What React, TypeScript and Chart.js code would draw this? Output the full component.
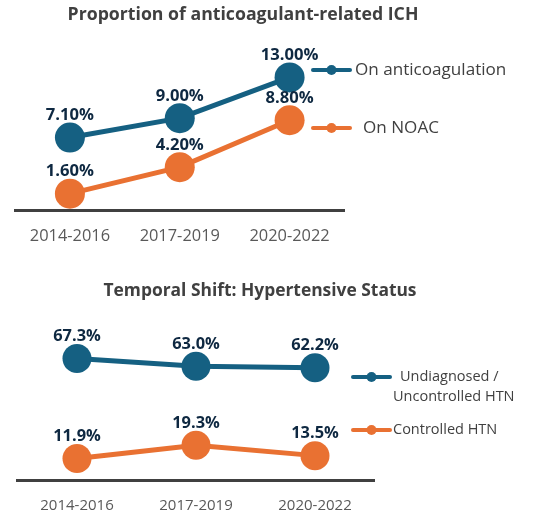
import React, { useEffect, useRef } from "react";
import { Chart, registerables } from "chart.js";

Chart.register(...registerables);

const periods = ["2014-2016", "2017-2019", "2020-2022"];

const topTitle = "Proportion of anticoagulant-related ICH";
const onAnticoagulation = [7.1, 9.0, 13.0];
const onNoac = [1.6, 4.2, 8.8];

const bottomTitle = "Temporal Shift: Hypertensive Status";
const uncontrolledHtn = [67.3, 63.0, 62.2];
const controlledHtn = [11.9, 19.3, 13.5];

const BLUE = "#156082";
const ORANGE = "#E97132";
const NAVY = "#0E2841";
const GRAY = "#404040";
const FONT = "'Open Sans', 'Liberation Sans', sans-serif";

type LegendItem = { color: string; lines: string[]; lineY: number; textX: number[]; textY: number[] };

type Overlay = {
  title: string;
  titleX: number;
  titleY: number;
  titleSize: number;
  labelSize: number;
  labelOffset: number;
  decimals: number;
  legendX0: number;
  legendX1: number;
  legendSize: number;
  legend: LegendItem[];
};

function makeOverlay(o: Overlay) {
  return {
    id: "overlay",
    afterDatasetsDraw(chart: any) {
      const ctx = chart.ctx as CanvasRenderingContext2D;
      ctx.save();
      // title
      ctx.font = `bold ${o.titleSize}px ${FONT}`;
      ctx.fillStyle = GRAY;
      ctx.textAlign = "center";
      ctx.textBaseline = "middle";
      ctx.fillText(o.title, o.titleX, o.titleY);
      // data labels
      ctx.font = `bold ${o.labelSize}px ${FONT}`;
      ctx.fillStyle = NAVY;
      chart.data.datasets.forEach((ds: any, i: number) => {
        const meta = chart.getDatasetMeta(i);
        meta.data.forEach((pt: any, j: number) => {
          const v = ds.data[j] as number;
          ctx.fillText(v.toFixed(o.decimals) + "%", pt.x, pt.y - o.labelOffset);
        });
      });
      // legend
      o.legend.forEach((item) => {
        ctx.strokeStyle = item.color;
        ctx.lineWidth = 4;
        ctx.lineCap = "round";
        ctx.beginPath();
        ctx.moveTo(o.legendX0, item.lineY);
        ctx.lineTo(o.legendX1, item.lineY);
        ctx.stroke();
        ctx.fillStyle = item.color;
        ctx.beginPath();
        ctx.arc((o.legendX0 + o.legendX1) / 2, item.lineY, 5, 0, Math.PI * 2);
        ctx.fill();
        ctx.font = `${o.legendSize}px ${FONT}`;
        ctx.fillStyle = GRAY;
        ctx.textAlign = "left";
        ctx.textBaseline = "middle";
        item.lines.forEach((ln, k) => ctx.fillText(ln, item.textX[k], item.textY[k]));
        ctx.textAlign = "center";
      });
      ctx.restore();
    },
  };
}

function lineDataset(label: string, data: number[], color: string, radius: number) {
  return {
    label,
    data,
    borderColor: color,
    backgroundColor: color,
    borderWidth: 5,
    pointRadius: radius,
    pointHoverRadius: radius,
    pointBackgroundColor: color,
    pointBorderColor: color,
    pointBorderWidth: 0,
    tension: 0,
    clip: false as const,
  };
}

type Spec = {
  height: number;
  datasets: any[];
  yMax: number;
  padding: { left: number; right: number; top: number; bottom: number };
  axisHeight: number;
  tickSize: number;
  tickPadding: number;
  overlay: Overlay;
};

function LineChart({ spec, top }: { spec: Spec; top: number }) {
  const ref = useRef<HTMLCanvasElement | null>(null);
  useEffect(() => {
    if (!ref.current) return;
    const chart = new Chart(ref.current, {
      type: "line",
      data: { labels: periods, datasets: spec.datasets },
      options: {
        responsive: false,
        animation: false,
        devicePixelRatio: 1,
        layout: { padding: spec.padding },
        plugins: { legend: { display: false }, title: { display: false }, tooltip: { enabled: false } },
        scales: {
          x: {
            type: "category",
            offset: true,
            grid: { display: false, drawTicks: false },
            border: { display: true, color: GRAY, width: 3 },
            ticks: { color: "#595959", font: { size: spec.tickSize, family: FONT }, padding: spec.tickPadding },
            afterFit: (s: any) => {
              s.height = spec.axisHeight;
            },
          },
          y: { display: false, min: 0, max: spec.yMax },
        },
      },
      plugins: [makeOverlay(spec.overlay)],
    } as any);
    return () => chart.destroy();
  }, [spec]);
  return (
    <canvas
      ref={ref}
      width={554}
      height={spec.height}
      style={{ position: "absolute", left: 0, top, width: 554, height: spec.height }}
    />
  );
}

const topSpec: Spec = {
  height: 260,
  datasets: [
    lineDataset("On anticoagulation", onAnticoagulation, BLUE, 15),
    lineDataset("On NOAC", onNoac, ORANGE, 15),
  ],
  yMax: 17,
  padding: { left: 5.5, right: 209.5, top: 36.6, bottom: 0 },
  axisHeight: 50,
  tickSize: 16.4,
  tickPadding: 16,
  overlay: {
    title: topTitle,
    titleX: 243,
    titleY: 15,
    titleSize: 17.7,
    labelSize: 16.6,
    labelOffset: 22,
    decimals: 2,
    legendX0: 313,
    legendX1: 350,
    legendSize: 17.1,
    legend: [
      { color: BLUE, lines: ["On anticoagulation"], lineY: 70, textX: [355], textY: [70] },
      { color: ORANGE, lines: ["On NOAC"], lineY: 128, textX: [363], textY: [128] },
    ],
  },
};

const bottomSpec: Spec = {
  height: 258,
  datasets: [
    lineDataset("Undiagnosed / Uncontrolled HTN", uncontrolledHtn, BLUE, 14.5),
    lineDataset("Controlled HTN", controlledHtn, ORANGE, 14.5),
  ],
  yMax: 80,
  padding: { left: 17.5, right: 179.5, top: 75.6, bottom: 0 },
  axisHeight: 38,
  tickSize: 15,
  tickPadding: 17,
  overlay: {
    title: bottomTitle,
    titleX: 260,
    titleY: 31,
    titleSize: 17.4,
    labelSize: 16.4,
    labelOffset: 22,
    decimals: 1,
    legendX0: 353,
    legendX1: 390,
    legendSize: 14.5,
    legend: [
      {
        color: BLUE,
        lines: ["Undiagnosed /", "Uncontrolled HTN"],
        lineY: 117,
        textX: [400, 393],
        textY: [117, 137],
      },
      { color: ORANGE, lines: ["Controlled HTN"], lineY: 170, textX: [393], textY: [170] },
    ],
  },
};

export default function App() {
  return (
    <div style={{ position: "absolute", left: 0, top: 0, width: 554, height: 518, background: "#fff" }}>
      <LineChart spec={topSpec} top={0} />
      <LineChart spec={bottomSpec} top={260} />
    </div>
  );
}
